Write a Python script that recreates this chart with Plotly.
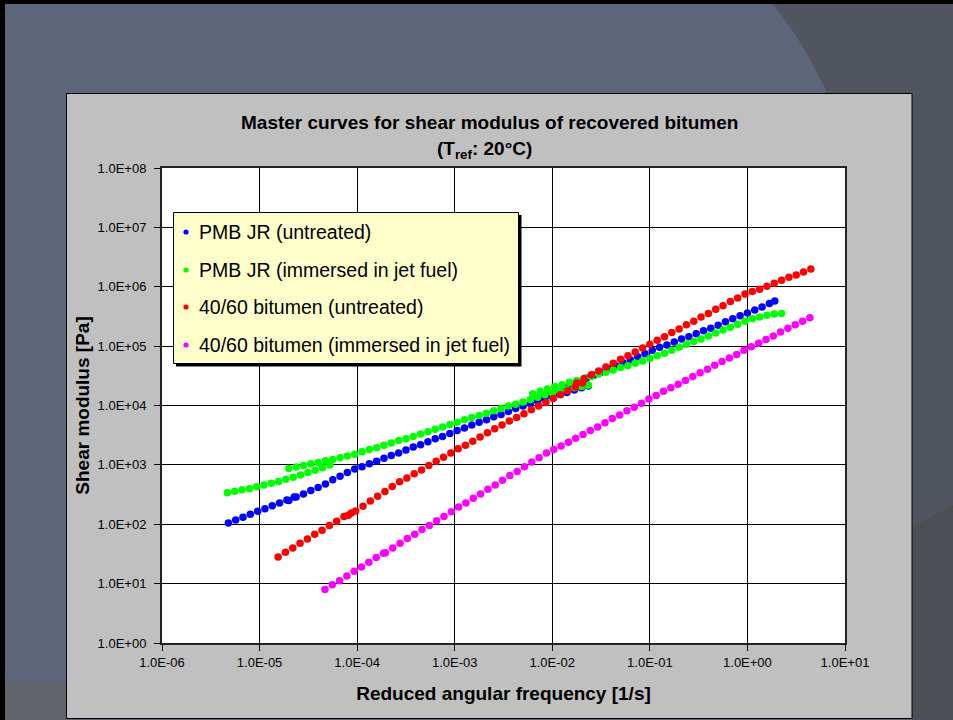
import numpy as np
import plotly.graph_objects as go

# ---------------- data (log10 of reduced angular frequency [1/s] and log10 of shear modulus [Pa]) ----------------
pmb_untreated_log_w = [
    -5.32, -5.245, -5.17, -5.095, -5.02, -4.945, -4.87, -4.795, -4.72, -4.645,
    -4.70, -4.625, -4.55, -4.475, -4.40, -4.325, -4.25, -4.175, -4.10, -4.025,
    -3.95, -3.875, -3.80, -3.725, -3.65, -3.575, -3.50, -3.425, -3.35, -3.275,
    -3.20, -3.125, -3.05, -2.975, -2.90, -2.825, -2.75, -2.675, -2.60, -2.525,
    -2.45, -2.375, -2.30, -2.225, -2.15, -2.075, -2.00, -1.925, -1.85, -1.775,
    -1.70, -1.63,
    -2.10, -2.025, -1.95, -1.875, -1.80, -1.725, -1.65, -1.575, -1.50, -1.425,
    -1.35, -1.275, -1.20, -1.125, -1.05, -0.975, -0.90, -0.825, -0.75, -0.675,
    -0.60, -0.525, -0.45, -0.375, -0.30, -0.225, -0.15, -0.075, 0.00, 0.075,
    0.15, 0.225, 0.28]
pmb_untreated_log_g = [
    2.02, 2.07, 2.12, 2.17, 2.22, 2.26, 2.31, 2.36, 2.41, 2.46,
    2.40, 2.46, 2.51, 2.57, 2.62, 2.68, 2.75, 2.81, 2.87, 2.93,
    2.97, 3.02, 3.06, 3.11, 3.16, 3.20, 3.25, 3.30, 3.34, 3.39,
    3.44, 3.48, 3.53, 3.58, 3.62, 3.67, 3.72, 3.76, 3.81, 3.85,
    3.90, 3.95, 3.99, 4.03, 4.07, 4.11, 4.15, 4.19, 4.22, 4.26,
    4.30, 4.33,
    4.14, 4.19, 4.24, 4.30, 4.35, 4.40, 4.46, 4.51, 4.56, 4.62,
    4.67, 4.72, 4.77, 4.82, 4.87, 4.93, 4.98, 5.02, 5.07, 5.12,
    5.16, 5.21, 5.26, 5.30, 5.35, 5.41, 5.46, 5.51, 5.56, 5.61,
    5.66, 5.72, 5.76]

pmb_jetfuel_log_w = [
    -5.33, -5.255, -5.18, -5.105, -5.03, -4.955, -4.88, -4.805, -4.73, -4.655,
    -4.58, -4.505, -4.43, -4.355, -4.28,
    -4.70, -4.625, -4.55, -4.475, -4.40, -4.325, -4.25, -4.175, -4.10, -4.025,
    -3.95, -3.875, -3.80, -3.725, -3.65, -3.575, -3.50, -3.425, -3.35, -3.275,
    -3.20, -3.125, -3.05, -2.975, -2.90, -2.825, -2.75, -2.675, -2.60, -2.525,
    -2.45, -2.375, -2.30, -2.225, -2.15, -2.075, -2.00, -1.925, -1.85, -1.775,
    -1.70, -1.63,
    -2.20, -2.125, -2.05, -1.975, -1.90, -1.825, -1.75, -1.675, -1.60, -1.525,
    -1.45, -1.375, -1.30, -1.225, -1.15, -1.075, -1.00, -0.925, -0.85, -0.775,
    -0.70, -0.625, -0.55, -0.475, -0.40, -0.325, -0.25, -0.175, -0.10, -0.025,
    0.05, 0.125, 0.20, 0.275, 0.35]
pmb_jetfuel_log_g = [
    2.53, 2.555, 2.58, 2.60, 2.63, 2.66, 2.69, 2.72, 2.76, 2.79,
    2.83, 2.87, 2.91, 2.95, 3.00,
    2.94, 2.965, 2.99, 3.02, 3.04, 3.07, 3.09, 3.12, 3.15, 3.18,
    3.22, 3.26, 3.29, 3.33, 3.37, 3.41, 3.44, 3.48, 3.52, 3.56,
    3.60, 3.64, 3.68, 3.72, 3.76, 3.80, 3.83, 3.87, 3.91, 3.95,
    3.99, 4.02, 4.06, 4.10, 4.14, 4.18, 4.21, 4.24, 4.27, 4.30,
    4.32, 4.34,
    4.20, 4.24, 4.28, 4.32, 4.35, 4.39, 4.42, 4.46, 4.49, 4.53,
    4.56, 4.60, 4.64, 4.67, 4.71, 4.75, 4.79, 4.84, 4.88, 4.93,
    4.98, 5.03, 5.08, 5.12, 5.17, 5.22, 5.27, 5.32, 5.37, 5.42,
    5.46, 5.49, 5.52, 5.54, 5.55]

b4060_untreated_log_w = [
    -4.81, -4.735, -4.66, -4.585, -4.51, -4.435, -4.36, -4.285, -4.21, -4.135,
    -4.06,
    -4.09, -4.015, -3.94, -3.865, -3.79, -3.715, -3.64, -3.565, -3.49, -3.415,
    -3.34, -3.265, -3.19, -3.115, -3.04, -2.965, -2.89, -2.815, -2.74, -2.665,
    -2.59, -2.515, -2.44, -2.365, -2.29, -2.215, -2.14, -2.065, -1.99, -1.915,
    -1.84, -1.765, -1.69,
    -1.75, -1.675, -1.60, -1.525, -1.45, -1.375, -1.30, -1.225, -1.15, -1.075,
    -1.00, -0.925, -0.85, -0.775, -0.70, -0.625, -0.55, -0.475, -0.40, -0.325,
    -0.25, -0.175, -0.10, -0.025, 0.05, 0.125, 0.20, 0.275, 0.35, 0.425,
    0.50, 0.575, 0.65]
b4060_untreated_log_g = [
    1.45, 1.53, 1.60, 1.68, 1.75, 1.83, 1.90, 1.98, 2.05, 2.13,
    2.19,
    2.15, 2.225, 2.305, 2.39, 2.47, 2.55, 2.635, 2.715, 2.78, 2.85,
    2.915, 2.99, 3.06, 3.13, 3.20, 3.27, 3.33, 3.40, 3.47, 3.54,
    3.61, 3.67, 3.74, 3.80, 3.86, 3.93, 3.99, 4.05, 4.12, 4.18,
    4.25, 4.31, 4.38,
    4.38, 4.45, 4.52, 4.58, 4.65, 4.71, 4.78, 4.84, 4.90, 4.97,
    5.03, 5.10, 5.16, 5.23, 5.29, 5.36, 5.42, 5.49, 5.55, 5.62,
    5.68, 5.75, 5.81, 5.88, 5.92, 5.96, 6.01, 6.06, 6.11, 6.16,
    6.20, 6.25, 6.30]

b4060_jetfuel_log_w = [
    -4.33, -4.255, -4.18, -4.105, -4.03, -3.955, -3.88, -3.805, -3.73,
    -3.71, -3.635, -3.56, -3.485, -3.41, -3.335, -3.26, -3.185, -3.11, -3.035,
    -2.96, -2.885, -2.81, -2.735, -2.66, -2.585, -2.51, -2.435, -2.36, -2.285,
    -2.21, -2.135, -2.06, -1.985, -1.91, -1.835, -1.76, -1.685, -1.61, -1.535,
    -1.46, -1.385, -1.31, -1.235, -1.16, -1.085, -1.01, -0.935, -0.86, -0.785,
    -0.71, -0.635, -0.56, -0.485, -0.41, -0.335, -0.26, -0.185, -0.11, -0.035,
    0.04, 0.115, 0.19, 0.265, 0.34, 0.415, 0.49, 0.565, 0.64]
b4060_jetfuel_log_g = [
    0.90, 0.98, 1.05, 1.13, 1.21, 1.28, 1.36, 1.44, 1.51,
    1.52, 1.60, 1.68, 1.76, 1.83, 1.91, 1.98, 2.06, 2.13, 2.21,
    2.29, 2.36, 2.44, 2.51, 2.59, 2.66, 2.74, 2.82, 2.89, 2.97,
    3.05, 3.12, 3.20, 3.26, 3.32, 3.38, 3.45, 3.51, 3.58, 3.64,
    3.71, 3.78, 3.84, 3.91, 3.97, 4.04, 4.11, 4.17, 4.24, 4.30,
    4.36, 4.42, 4.49, 4.55, 4.61, 4.68, 4.74, 4.80, 4.86, 4.93,
    4.99, 5.05, 5.11, 5.17, 5.24, 5.30, 5.36, 5.42, 5.48]

series_names = [
    "PMB JR (untreated)",
    "PMB JR (immersed in jet fuel)",
    "40/60 bitumen (untreated)",
    "40/60 bitumen (immersed in jet fuel)",
]
series_colors = ["#0000ff", "#00ff00", "#ff0000", "#ff00ff"]
series_data = [
    (pmb_untreated_log_w, pmb_untreated_log_g),
    (pmb_jetfuel_log_w, pmb_jetfuel_log_g),
    (b4060_untreated_log_w, b4060_untreated_log_g),
    (b4060_jetfuel_log_w, b4060_jetfuel_log_g),
]

x_tick_exponents = [-6, -5, -4, -3, -2, -1, 0, 1]
x_tick_labels = ["1.0E-06", "1.0E-05", "1.0E-04", "1.0E-03", "1.0E-02", "1.0E-01", "1.0E+00", "1.0E+01"]
y_tick_exponents = [0, 1, 2, 3, 4, 5, 6, 7, 8]
y_tick_labels = ["1.0E+00", "1.0E+01", "1.0E+02", "1.0E+03", "1.0E+04", "1.0E+05", "1.0E+06", "1.0E+07", "1.0E+08"]

# ---------------- layout helpers (pixel -> paper) ----------------
W, H = 953, 720
PL, PR, PT, PB = 162, 845, 168, 643


def px(x):
    return (x - PL) / (PR - PL)


def py(y):
    return (PB - y) / (PB - PT)


FONT = "Liberation Sans, Arial, sans-serif"

fig = go.Figure()
for i, (name, color, (lw, lg)) in enumerate(zip(series_names, series_colors, series_data)):
    fig.add_trace(go.Scatter(
        x=np.power(10.0, np.array(lw)),
        y=np.power(10.0, np.array(lg)),
        mode="markers",
        name=name,
        showlegend=False,
        marker=dict(color=color, size=7.5, line=dict(width=0)),
        hoverinfo="x+y+name",
    ))

shapes = [
    # darker slide region (top right)
    dict(type="path", xref="paper", yref="paper", layer="below",
         path="M %f,%f Q %f,%f %f,%f L %f,%f L %f,%f L %f,%f L %f,%f Z" % (
             px(769), py(0), px(800), py(35), px(827), py(93), px(912), py(93),
             px(912), py(720), px(953), py(720), px(953), py(0)),
         fillcolor="#51555f", line=dict(width=0)),
    dict(type="path", xref="paper", yref="paper", layer="below",
         path="M %f,%f L %f,%f L %f,%f L %f,%f Z" % (
             px(912), py(527), px(953), py(505), px(953), py(720), px(912), py(720)),
         fillcolor="#4e4f55", line=dict(width=0)),
    # lighter band bottom left
    dict(type="path", xref="paper", yref="paper", layer="below",
         path="M %f,%f L %f,%f L %f,%f L %f,%f Z" % (
             px(0), py(680), px(66), py(683), px(66), py(720), px(0), py(720)),
         fillcolor="#62646c", line=dict(width=0)),
    # black slide edges
    dict(type="rect", xref="paper", yref="paper", layer="below",
         x0=px(0), x1=px(953), y0=py(0), y1=py(4), fillcolor="#000000", line=dict(width=0)),
    dict(type="rect", xref="paper", yref="paper", layer="below",
         x0=px(0), x1=px(5), y0=py(0), y1=py(720), fillcolor="#000000", line=dict(width=0)),
    # chart area
    dict(type="rect", xref="paper", yref="paper", layer="below",
         x0=px(66.5), x1=px(912), y0=py(93.5), y1=py(718.5), fillcolor="#c0c0c0",
         line=dict(color="#000000", width=1)),
    # plot area
    dict(type="rect", xref="paper", yref="paper", layer="below",
         x0=0, x1=1, y0=0, y1=1, fillcolor="#ffffff", line=dict(width=0)),
    # legend shadow and box
    dict(type="rect", xref="paper", yref="paper", layer="above",
         x0=px(176), x1=px(521.5), y0=py(215), y1=py(366.5), fillcolor="#000000",
         line=dict(width=0)),
    dict(type="rect", xref="paper", yref="paper", layer="above",
         x0=px(173.5), x1=px(518.5), y0=py(212.5), y1=py(363.5), fillcolor="#ffffcc",
         line=dict(color="#000000", width=1)),
]

# legend entries (manual legend drawn inside the box)
legend_rows_y = [232, 270, 307, 345]
legend_dot_x = 186
legend_text_x = 197
annotations = []
for name, color, ry in zip(series_names, series_colors, legend_rows_y):
    shapes.append(dict(type="circle", xref="paper", yref="paper", layer="above",
                       x0=px(legend_dot_x - 2.6), x1=px(legend_dot_x + 2.6),
                       y0=py(ry + 2.6), y1=py(ry - 2.6),
                       fillcolor=color, line=dict(width=0)))
    annotations.append(dict(text=name, xref="paper", yref="paper",
                            x=px(legend_text_x), y=py(ry), xanchor="left", yanchor="middle",
                            showarrow=False,
                            font=dict(family=FONT, size=19.5, color="#000000")))

annotations += [
    dict(text="<b>Master curves for shear modulus of recovered bitumen</b>",
         xref="paper", yref="paper", x=px(489), y=py(123), xanchor="center", yanchor="middle",
         showarrow=False, font=dict(family=FONT, size=19, color="#000000")),
    dict(text="<b>(T<sub>ref</sub>: 20°C)</b>",
         xref="paper", yref="paper", x=px(484), y=py(150), xanchor="center", yanchor="middle",
         showarrow=False, font=dict(family=FONT, size=19, color="#000000")),
]

axis_common = dict(
    type="log",
    showgrid=True, gridcolor="#000000", gridwidth=1,
    showline=True, linecolor="#222222", linewidth=2, mirror=True,
    ticks="outside", ticklen=6, tickwidth=1, tickcolor="#000000",
    tickfont=dict(family=FONT, size=13, color="#000000"),
    zeroline=False,
)

fig.update_layout(
    width=W, height=H,
    margin=dict(l=PL, r=W - PR, t=PT, b=H - PB, pad=0),
    paper_bgcolor="#5c6579",
    plot_bgcolor="#ffffff",
    font=dict(family=FONT, color="#000000"),
    shapes=shapes,
    annotations=annotations,
    showlegend=False,
    xaxis=dict(
        axis_common,
        range=[-6, 1],
        tickvals=[10.0 ** e for e in x_tick_exponents],
        ticktext=x_tick_labels,
        title=dict(text="<b>Reduced angular frequency [1/s]</b>",
                   font=dict(family=FONT, size=19, color="#000000"), standoff=18),
    ),
    yaxis=dict(
        axis_common,
        range=[0, 8],
        tickvals=[10.0 ** e for e in y_tick_exponents],
        ticktext=y_tick_labels,
        ticklabelstandoff=5,
        title=dict(text="<b>Shear modulus [Pa]</b>",
                   font=dict(family=FONT, size=19, color="#000000"), standoff=3),
    ),
)

fig.write_html("out.html", config={"displayModeBar": False},
               post_script="document.body.style.margin='0px';")
